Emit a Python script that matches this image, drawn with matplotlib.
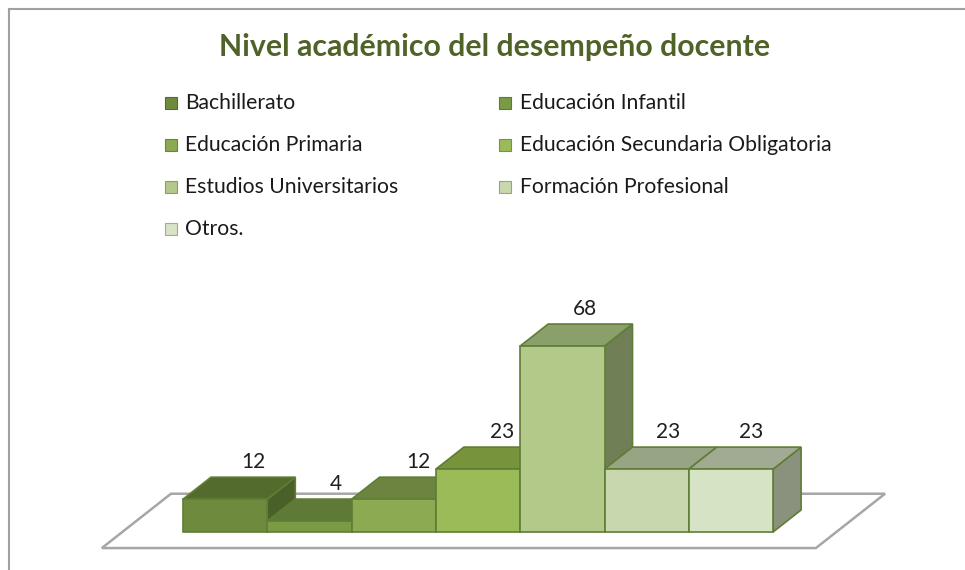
import matplotlib.pyplot as plt
from matplotlib.patches import Polygon, Rectangle
from matplotlib.lines import Line2D

# Datos
categorias = ['Bachillerato', 'Educación Infantil', 'Educación Primaria',
              'Educación Secundaria Obligatoria', 'Estudios Universitarios',
              'Formación Profesional', 'Otros.']
valores = [12, 4, 12, 23, 68, 23, 23]

color_frente = ['#6E8B3D', '#7A9A44', '#8BAA52', '#9BBB59', '#B2C98A', '#C8D7AE', '#D7E3C5']
color_arriba = ['#546B2E', '#5F7A36', '#6C8440', '#77933C', '#8A9F69', '#98A585', '#A1AB93']
color_lado = ['#4B6029', '#556E30', '#61773A', '#6B8339', '#717F56', '#7F8C6A', '#8A917D']
borde = '#5F7D35'

plt.rcParams['font.family'] = ['Lato', 'DejaVu Sans']

W, H = 965, 570
fig = plt.figure(figsize=(W / 100, H / 100), dpi=100)

# escala: una barra = 84.3 px, una unidad = 2.735 px; origen en (183, 532)
x0_px, y0_px = 183, 532
ux, uy = 84.3, 2.735
xmin, xmax = -1.1, 8.5
ymin, ymax = -10, 92
ax = fig.add_axes([(x0_px + xmin * ux) / W, (H - (y0_px - ymin * uy)) / H,
                   (xmax - xmin) * ux / W, (ymax - ymin) * uy / H])
ax.set_xlim(xmin, xmax)
ax.set_ylim(ymin, ymax)
ax.axis('off')

# desplazamiento de profundidad
dx, dy = 28 / ux, 22 / uy

# suelo
d0, d1 = -0.73, 1.74
xa, xb = -0.72, 7.75
suelo = [(xa + d0 * dx, d0 * dy), (xb + d0 * dx, d0 * dy),
         (xb + d1 * dx, d1 * dy), (xa + d1 * dx, d1 * dy)]
ax.add_patch(Polygon(suelo, closed=True, fc='white', ec='#a6a6a6', lw=1.8, zorder=1))

# barras
pos = list(range(len(valores)))
barras = ax.bar(pos, valores, width=1, align='edge', color=color_frente,
                edgecolor=borde, linewidth=1.2)
for i, (p, v) in enumerate(zip(barras, valores)):
    p.set_zorder(3 + 2 * i)
    arriba = [(i, v), (i + 1, v), (i + 1 + dx, v + dy), (i + dx, v + dy)]
    lado = [(i + 1, 0), (i + 1 + dx, dy), (i + 1 + dx, v + dy), (i + 1, v)]
    ax.add_patch(Polygon(lado, closed=True, fc=color_lado[i], ec=borde, lw=1.2, zorder=2 + 2 * i))
    ax.add_patch(Polygon(arriba, closed=True, fc=color_arriba[i], ec=borde, lw=1.2, zorder=2 + 2 * i))
    off = 0.33 - 0.016 * i
    ax.text(i + 0.5 + off, v + 13.5, str(v), ha='center', va='center',
            fontsize=15, color='#1f1f1f', zorder=30)

# titulo
fig.text(495 / W, 1 - 47 / H, 'Nivel académico del desempeño docente', ha='center', va='center',
         fontsize=21.8, fontweight='bold', color='#4F6228')

# leyenda (dos columnas, por filas)
filas_y = [103, 145, 187, 229]
col_marca = [171, 505]
col_texto = [185, 520]
lado_m = 12
for k, nombre in enumerate(categorias):
    fila, col = divmod(k, 2)
    yc = filas_y[fila]
    fig.add_artist(Rectangle(((col_marca[col] - lado_m / 2) / W, 1 - (yc + lado_m / 2) / H),
                             lado_m / W, lado_m / H, transform=fig.transFigure,
                             fc=color_frente[k], ec=color_arriba[k], lw=0.8))
    fig.text(col_texto[col] / W, 1 - yc / H, nombre, ha='left', va='center',
             fontsize=15.2, color='#1a1a1a')

# marco
fig.add_artist(Line2D([9 / W, 1], [1 - 9 / H, 1 - 9 / H], color='#a0a0a0', lw=1.5))
fig.add_artist(Line2D([9 / W, 9 / W], [0, 1 - 9 / H], color='#a0a0a0', lw=1.5))

fig.savefig('out.png', dpi=100)
